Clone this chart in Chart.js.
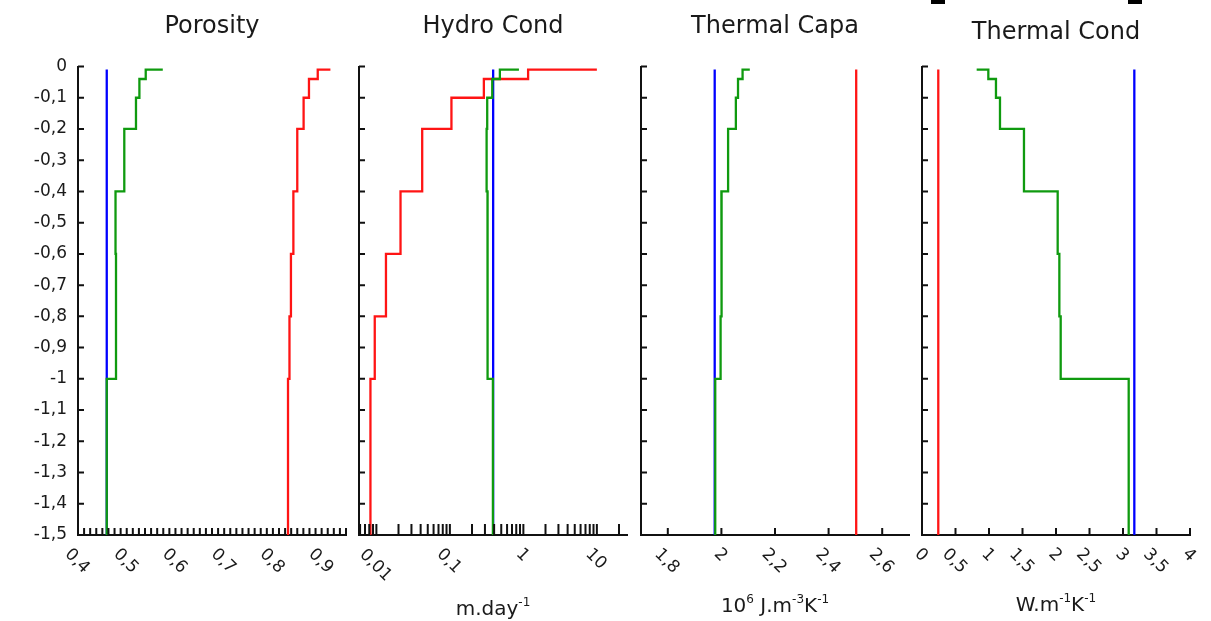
<!DOCTYPE html>
<html>
<head>
<meta charset="utf-8">
<script src="https://cdn.jsdelivr.net/npm/chart.js@4.4.0/dist/chart.umd.min.js"></script>
<style>
  html, body { margin: 0; padding: 0; background: #fff; }
  body { width: 1211px; height: 621px; position: relative; overflow: hidden; }
  canvas { position: absolute; top: 0; }
  .corner { position: absolute; top: 0; width: 14px; height: 4px; background: #000; }
</style>
</head>
<body>
<div class="corner" style="left:931px"></div>
<div class="corner" style="left:1128px"></div>
<canvas id="porosity" width="360" height="621" style="left:0px"></canvas>
<canvas id="hydro" width="360" height="621" style="left:281px"></canvas>
<canvas id="capa" width="360" height="621" style="left:563px"></canvas>
<canvas id="cond" width="360" height="621" style="left:844px"></canvas>
<script>
// layer boundaries (m); first entry is the surface node
const DEPTHS = [-0.01, -0.04, -0.1, -0.2, -0.4, -0.6, -0.8, -1.0, -1.5];

// one value for the surface node, then one per layer
const POROSITY_GREEN = [0.574, 0.539, 0.526, 0.519, 0.495, 0.477, 0.478, 0.478, 0.459];
const POROSITY_BLUE = [0.459, 0.459, 0.459, 0.459, 0.459, 0.459, 0.459, 0.459, 0.459];
const POROSITY_RED = [0.918, 0.892, 0.874, 0.863, 0.850, 0.842, 0.837, 0.834, 0.831];
const POROSITY_LABELS = [0.4, 0.5, 0.6, 0.7, 0.8, 0.9];

const HYDRO_GREEN = [0.87, 0.479, 0.377, 0.322, 0.316, 0.325, 0.33, 0.322, 0.385];
const HYDRO_BLUE = [0.388, 0.388, 0.388, 0.388, 0.388, 0.388, 0.388, 0.388, 0.388];
const HYDRO_RED = [10, 1.16, 0.29, 0.105, 0.042, 0.0213, 0.0135, 0.0095, 0.0083];
const HYDRO_LABELS = [0.01, 0.1, 1, 10];

const CAPA_GREEN = [2.106, 2.079, 2.062, 2.054, 2.025, 2.0, 2.001, 1.997, 1.977];
const CAPA_BLUE = [1.975, 1.975, 1.975, 1.975, 1.975, 1.975, 1.975, 1.975, 1.975];
const CAPA_RED = [2.503, 2.503, 2.503, 2.503, 2.503, 2.503, 2.503, 2.503, 2.503];
const CAPA_LABELS = [1.8, 2, 2.2, 2.4, 2.6];

const COND_GREEN = [0.816, 0.99, 1.104, 1.164, 1.522, 2.025, 2.05, 2.07, 3.085];
const COND_BLUE = [3.169, 3.169, 3.169, 3.169, 3.169, 3.169, 3.169, 3.169, 3.169];
const COND_RED = [0.243, 0.243, 0.243, 0.243, 0.243, 0.243, 0.243, 0.243, 0.243];
const COND_LABELS = [0, 0.5, 1, 1.5, 2, 2.5, 3, 3.5, 4];

const GREEN = "#0f9a0f";
const BLUE = "#0000ff";
const RED = "#ff1414";
const INK = "#1a1a1a";
const FONT = "DejaVu Sans";

function profilePoints(values) {
  const pts = [{ x: values[0], y: DEPTHS[0] }];
  for (let k = 1; k < values.length; k++) {
    pts.push({ x: values[k], y: DEPTHS[k - 1] });
    pts.push({ x: values[k], y: DEPTHS[k] });
  }
  return pts;
}

function commaNum(v) {
  return String(Math.round(v * 10000) / 10000).replace(".", ",");
}

function linearTicks(from, to, step) {
  const out = [];
  for (let i = 0; from + i * step <= to + 1e-9; i++) out.push(from + i * step);
  return out;
}

function logTicks(min, max) {
  const out = [];
  for (let e = -3; e <= 2; e++) {
    for (let m = 1; m <= 9; m++) {
      const v = m * Math.pow(10, e);
      if (v >= min && v <= max) out.push(v);
    }
  }
  return out;
}

// inward tick marks, rotated x labels and the unit line under each panel
const axisDecor = {
  id: "axisDecor",
  afterDraw(chart, args, opts) {
    const { ctx, chartArea } = chart;
    const xs = chart.scales.x;
    const ys = chart.scales.y;
    ctx.save();
    ctx.strokeStyle = "#111";
    ctx.lineWidth = 2;
    ctx.beginPath();
    for (const t of xs.ticks) {
      const px = xs.getPixelForValue(t.value);
      ctx.moveTo(px, chartArea.bottom);
      ctx.lineTo(px, chartArea.bottom - opts.xLen);
    }
    for (const t of ys.ticks) {
      const py = ys.getPixelForValue(t.value);
      ctx.moveTo(chartArea.left, py);
      ctx.lineTo(chartArea.left + opts.yLen, py);
    }
    ctx.stroke();

    ctx.fillStyle = INK;
    ctx.font = `17px "${FONT}"`;
    ctx.textAlign = "center";
    ctx.textBaseline = "middle";
    for (const v of opts.labels) {
      const text = commaNum(v);
      const w = ctx.measureText(text).width;
      ctx.save();
      ctx.translate(xs.getPixelForValue(v) - 1, chartArea.bottom + 16 + 0.38 * w);
      ctx.rotate(Math.PI / 4);
      ctx.fillText(text, 0, 0);
      ctx.restore();
    }

    const parts = opts.unit.map(([text, sup]) => {
      ctx.font = sup ? `12px "${FONT}"` : `20px "${FONT}"`;
      return { text, sup, w: ctx.measureText(text).width };
    });
    const total = parts.reduce((s, p) => s + p.w, 0);
    let x = (chartArea.left + chartArea.right) / 2 - total / 2;
    ctx.textAlign = "left";
    ctx.textBaseline = "alphabetic";
    for (const p of parts) {
      ctx.font = p.sup ? `12px "${FONT}"` : `20px "${FONT}"`;
      ctx.fillText(p.text, x, opts.unitY - (p.sup ? 9 : 0));
      x += p.w;
    }
    ctx.restore();
  },
};

const PANELS = [
  {
    canvas: "porosity", title: "Porosity", type: "linear", min: 0.4, max: 0.95,
    ticks: linearTicks(0.4, 0.95, 0.0125), labels: POROSITY_LABELS,
    series: [POROSITY_GREEN, POROSITY_BLUE, POROSITY_RED],
    unit: [], unitY: 612, xLen: 7, yLabels: true, titleTop: 12.3,
  },
  {
    canvas: "hydro", title: "Hydro Cond", type: "logarithmic", min: 0.0058, max: 25.7,
    ticks: logTicks(0.0058, 25.7), labels: HYDRO_LABELS,
    series: [HYDRO_GREEN, HYDRO_BLUE, HYDRO_RED],
    unit: [["m.day", false], ["-1", true]], unitY: 615, xLen: 11, yLabels: false, titleTop: 12.3,
  },
  {
    canvas: "capa", title: "Thermal Capa", type: "linear", min: 1.7, max: 2.7,
    ticks: CAPA_LABELS, labels: CAPA_LABELS,
    series: [CAPA_GREEN, CAPA_BLUE, CAPA_RED],
    unit: [["10", false], ["6", true], [" J.m", false], ["-3", true], ["K", false], ["-1", true]],
    unitY: 612, xLen: 7, yLabels: false, titleTop: 12.3,
  },
  {
    canvas: "cond", title: "Thermal Cond", type: "linear", min: 0, max: 4,
    ticks: COND_LABELS, labels: COND_LABELS,
    series: [COND_GREEN, COND_BLUE, COND_RED],
    unit: [["W.m", false], ["-1", true], ["K", false], ["-1", true]],
    unitY: 611, xLen: 7, yLabels: false, titleTop: 18.5,
  },
];

const COLORS = [GREEN, BLUE, RED];

for (const p of PANELS) {
  const ctx = document.getElementById(p.canvas).getContext("2d");
  new Chart(ctx, {
    type: "scatter",
    data: {
      datasets: p.series.map((vals, i) => ({
        data: profilePoints(vals),
        showLine: true,
        borderColor: COLORS[i],
        backgroundColor: COLORS[i],
        borderWidth: 2.3,
        pointRadius: 0,
        tension: 0,
      })),
    },
    options: {
      responsive: false,
      devicePixelRatio: 1,
      animation: false,
      events: [],
      layout: { padding: { left: 0, right: 14, top: 0, bottom: 0 } },
      plugins: {
        legend: { display: false },
        tooltip: { enabled: false },
        title: {
          display: true,
          text: p.title,
          fullSize: false,
          color: INK,
          font: { family: FONT, size: 24, weight: "normal" },
          padding: { top: p.titleTop, bottom: 66.5 - 28.8 - p.titleTop },
        },
        axisDecor: { xLen: p.xLen, yLen: 6, labels: p.labels, unit: p.unit, unitY: p.unitY },
      },
      scales: {
        x: {
          type: p.type,
          min: p.min,
          max: p.max,
          afterBuildTicks: (s) => { s.ticks = p.ticks.map((v) => ({ value: v })); },
          afterFit: (s) => { s.height = 86; },
          ticks: { display: false },
          grid: { display: true, drawOnChartArea: false, drawTicks: false },
          border: { display: true, color: "#111", width: 2 },
        },
        y: {
          type: "linear",
          min: -1.5,
          max: 0,
          afterFit: (s) => { s.width = 78; },
          ticks: {
            display: p.yLabels,
            stepSize: 0.1,
            padding: 11,
            color: INK,
            font: { family: FONT, size: 17 },
            callback: (v) => commaNum(Math.round(v * 10) / 10),
          },
          grid: { display: true, drawOnChartArea: false, drawTicks: false },
          border: { display: true, color: "#111", width: 2 },
        },
      },
    },
    plugins: [axisDecor],
  });
}
</script>
</body>
</html>
